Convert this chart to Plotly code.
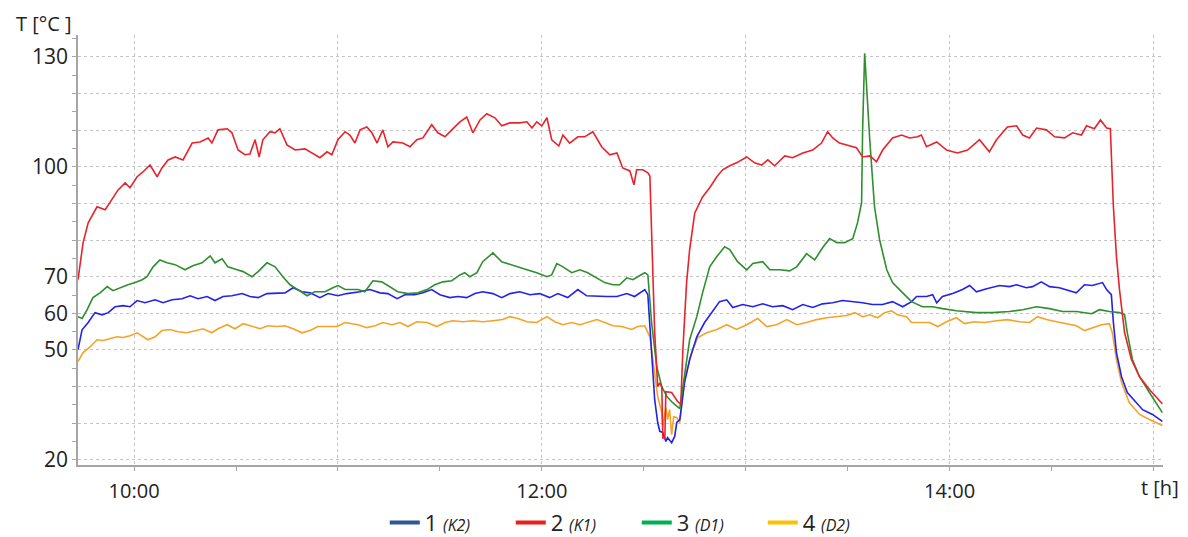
import plotly.graph_objects as go

# time in minutes after 09:00, temperature in °C
t_red = [43.5,45.0,46.5,49.1,51.5,53.5,55.3,57.4,58.8,60.9,
         62.6,64.7,66.8,68.2,70.0,72.1,74.4,77.1,79.4,81.8,
         82.9,84.7,87.4,88.8,90.6,92.6,94.1,95.6,96.8,97.9,
         100.0,101.5,102.9,105.0,107.4,110.3,112.4,114.7,116.8,118.2,
         120.0,122.1,123.5,125.0,126.5,128.5,130.0,131.5,133.2,134.7,
         136.2,139.1,141.2,143.2,145.0,147.6,149.4,151.5,153.5,155.9,
         157.9,159.7,161.8,163.8,166.2,168.2,170.6,173.5,175.6,177.1,
         178.5,180.0,181.5,182.9,185.0,186.2,188.2,190.6,192.6,195.0,
         197.6,200.0,202.1,203.8,205.9,207.1,207.9,209.7,211.2,211.8,
         213.2,214.1,214.7,215.3,215.6,216.2,216.5,218.2,220.0,220.9,
         221.5,222.6,223.5,225.0,227.3,229.4,231.5,233.2,235.3,237.3,
         240.3,242.6,244.7,246.5,248.5,251.5,253.8,256.8,259.7,262.3,
         264.1,265.6,267.6,270.6,272.6,274.4,276.5,278.5,280.3,283.2,
         285.9,288.2,290.6,291.7,293.2,296.2,299.1,302.3,305.3,308.8,
         311.7,313.8,317.0,319.7,321.5,323.5,325.6,328.5,330.9,333.8,
         336.2,338.8,340.3,342.6,344.4,346.2,347.3,348.2,349.1,350.0,
         351.5,353.5,355.9,358.8,362.6]
T_red = [69.2,79.3,84.7,89.1,88.3,91.0,93.7,95.6,94.3,97.3,
         98.6,100.5,97.3,99.7,101.9,102.7,101.9,106.5,106.8,107.9,
         106.5,110.1,110.4,109.3,104.6,103.3,103.5,107.4,102.7,107.4,
         109.6,109.3,110.4,106.0,104.6,104.9,103.8,102.5,104.1,103.3,
         107.4,109.6,108.7,106.5,110.1,110.9,109.3,106.5,110.1,105.5,
         106.8,106.5,105.5,107.4,107.9,111.5,109.3,108.2,110.1,112.3,
         113.6,109.3,112.8,114.5,113.4,111.2,112.0,112.0,112.3,110.6,
         112.3,111.2,113.4,107.4,105.7,108.7,106.5,108.2,108.2,109.6,
         105.5,103.3,103.8,99.7,98.9,95.1,99.2,99.2,98.4,97.5,
         55.0,40.0,41.0,40.0,26.0,26.0,38.6,38.4,35.9,35.2,
         50.0,68.4,77.4,87.4,91.8,94.3,97.3,99.2,100.3,101.1,
         102.7,101.1,100.5,101.9,100.3,103.0,102.5,103.8,104.6,106.5,
         109.6,107.9,106.5,105.7,105.2,102.7,103.0,101.4,104.6,107.9,
         108.7,107.9,108.2,108.7,105.5,106.8,104.6,103.8,104.6,107.4,
         104.1,107.4,110.9,111.2,108.7,107.9,110.6,110.1,108.2,107.9,
         109.3,108.7,111.2,110.4,112.8,110.6,110.4,89.1,75.5,66.5,
         54.7,47.4,42.7,39.2,35.3]

t_green = [43.5,44.7,46.2,47.9,50.0,52.1,53.8,55.9,58.2,60.3,
           62.4,63.8,65.6,67.6,69.7,72.1,75.0,77.3,80.0,82.4,
           83.8,85.9,87.6,90.3,92.1,94.7,96.5,99.1,101.5,103.8,
           105.9,108.2,110.9,113.2,116.2,118.5,120.0,122.1,125.9,127.9,
           130.3,132.9,135.3,137.6,140.6,143.5,146.2,148.5,150.9,153.5,
           155.9,157.3,158.8,160.9,162.6,165.6,168.2,170.6,172.9,175.6,
           178.5,181.5,182.9,184.4,186.2,188.8,191.2,193.5,196.2,198.5,
           200.9,202.9,205.0,206.8,208.2,210.3,211.2,212.3,213.8,215.3,
           216.8,218.5,220.6,222.0,223.5,225.6,227.3,229.4,231.5,233.8,
           235.3,237.6,240.3,242.1,245.0,247.1,250.0,252.9,255.0,257.9,
           260.3,262.6,264.7,266.8,269.1,271.5,272.9,274.1,274.4,275.0,
           275.6,276.5,277.9,279.4,281.5,283.2,286.2,288.8,292.0,295.0,
           297.9,302.0,307.9,312.6,317.6,321.5,325.6,329.4,333.2,337.3,
           341.8,344.1,347.0,350.0,351.5,352.3,353.8,355.9,358.8,362.6]
T_green = [59.1,58.6,61.0,64.3,65.6,67.3,66.2,67.0,67.8,68.4,
           69.2,70.0,72.7,74.6,73.8,73.3,71.9,73.0,73.8,75.7,
           73.8,74.9,72.7,71.9,71.4,70.0,71.4,73.8,72.7,70.0,
           67.8,66.5,64.8,65.9,65.9,67.0,67.6,66.5,66.5,65.9,
           68.9,68.6,67.3,65.9,65.4,65.6,66.5,67.8,68.6,68.9,
           70.5,71.1,70.0,71.1,74.1,76.5,74.1,73.3,72.7,71.9,
           71.1,70.0,70.5,73.6,72.7,71.1,71.9,71.1,69.7,68.4,
           67.8,67.8,69.7,69.2,70.0,71.1,70.5,57.5,45.5,40.0,
           37.3,35.6,34.0,43.8,52.8,59.1,65.6,72.7,75.5,78.2,
           77.4,74.1,71.9,73.6,74.1,71.9,71.9,71.6,72.7,76.3,
           74.6,77.9,80.4,79.3,79.3,80.4,84.7,90.2,110.0,131.0,
           120.0,107.4,89.1,80.1,71.9,68.4,65.6,63.2,61.8,61.8,
           61.3,60.7,60.2,60.2,60.5,61.0,61.8,61.3,60.5,60.5,
           59.9,61.0,60.5,60.2,59.6,54.7,47.4,42.7,38.4,32.9]

t_blue = [43.5,44.7,46.5,48.5,50.6,52.4,54.4,56.8,58.8,60.9,
          63.2,66.2,68.5,71.2,74.1,76.5,78.8,81.5,83.8,86.2,
          88.8,91.8,94.1,96.5,99.1,101.5,104.4,106.8,109.4,111.8,
          114.7,117.1,120.0,122.6,126.5,129.4,132.4,134.7,137.4,139.7,
          142.6,145.0,147.6,150.0,152.9,155.3,157.9,160.3,162.6,165.6,
          168.2,170.6,173.5,176.5,179.4,182.3,184.7,187.6,190.6,193.2,
          196.2,199.1,202.1,205.0,207.3,209.4,210.3,211.2,212.3,213.2,
          214.1,214.7,215.6,216.5,217.0,218.2,219.1,219.7,220.6,222.0,
          223.5,225.6,227.9,230.3,232.3,234.4,236.2,239.1,242.1,245.0,
          247.9,250.9,253.8,256.8,259.7,262.6,265.6,268.5,271.5,274.4,
          277.3,280.3,283.2,286.2,288.8,290.3,293.2,295.0,296.2,297.9,
          300.9,303.8,305.9,307.9,310.9,314.7,317.6,319.7,322.6,324.4,
          327.0,329.4,332.3,335.3,337.3,339.7,342.0,345.0,346.2,347.6,
          348.2,349.1,350.6,352.3,355.0,356.8,359.7,362.6]
T_blue = [50.1,55.5,57.5,60.2,59.6,60.2,61.8,62.1,61.8,63.5,
          62.9,63.7,62.9,63.7,64.0,64.8,64.0,64.6,63.5,64.6,
          64.8,65.4,64.6,64.3,65.4,65.4,65.6,67.0,65.9,65.6,
          64.3,65.4,64.8,65.4,65.9,66.5,65.6,65.4,64.0,65.1,
          65.1,65.6,66.5,65.1,64.3,64.6,64.3,65.4,65.9,65.4,
          64.3,65.4,65.9,65.1,65.4,64.3,65.4,64.3,66.5,64.8,
          64.6,64.6,64.6,65.4,64.6,65.9,66.5,65.1,50.1,36.5,
          30.2,27.8,27.5,25.0,26.1,24.7,26.4,30.2,31.0,41.1,
          47.4,53.6,57.5,60.5,63.2,63.7,61.6,62.4,61.8,62.6,
          61.8,62.1,61.0,62.4,61.6,62.6,62.9,63.5,63.2,62.9,
          62.4,62.4,63.2,61.8,63.2,64.6,64.6,65.1,62.9,64.6,
          65.4,66.5,67.6,65.9,66.7,67.6,67.3,67.8,67.0,67.3,
          68.6,67.3,67.0,66.2,65.6,67.8,67.6,68.4,66.5,65.1,
          57.5,49.3,42.7,38.4,35.6,33.7,32.4,30.5]

t_orange = [43.5,45.0,47.1,49.1,50.9,52.9,55.0,56.8,58.8,60.9,
            62.6,64.1,66.2,68.2,70.6,72.9,75.6,77.9,80.3,82.9,
            84.7,87.4,89.7,92.1,94.7,97.1,99.4,102.1,104.4,106.8,
            109.4,111.8,114.1,117.1,119.7,122.1,125.9,128.5,130.9,133.2,
            135.9,138.2,140.6,143.2,146.2,149.1,151.5,153.8,156.8,159.7,
            162.6,165.6,168.5,170.6,172.9,175.6,178.5,181.5,183.8,186.2,
            188.8,191.2,193.5,196.2,198.5,200.9,203.5,206.5,208.2,210.3,
            211.8,213.2,214.1,215.3,215.6,216.5,217.0,217.6,218.2,218.8,
            219.7,220.6,222.0,224.1,225.9,228.5,231.5,234.4,237.3,240.3,
            243.5,246.2,249.1,252.1,255.0,257.9,260.9,263.8,266.8,269.7,
            272.1,274.4,276.5,278.8,280.9,282.9,284.7,287.3,288.8,291.2,
            294.1,296.5,299.1,302.0,304.4,307.3,310.3,313.8,317.0,320.6,
            323.5,325.9,328.5,331.5,334.4,337.3,339.7,342.0,344.7,347.0,
            347.9,349.1,350.6,352.9,355.9,358.8,362.6]
T_orange = [46.8,49.3,50.9,52.8,52.6,53.1,53.6,53.4,53.9,54.7,
            53.6,52.8,53.6,55.3,55.6,55.0,54.7,55.3,55.8,54.7,
            55.8,56.9,55.8,57.2,56.4,55.8,56.6,56.4,56.6,55.8,
            54.7,55.3,56.4,56.4,56.4,57.5,56.9,56.1,56.6,57.5,
            56.9,57.5,56.4,57.7,57.5,56.4,57.5,58.0,57.7,58.0,
            57.7,58.0,58.3,59.1,58.6,57.7,57.5,59.1,57.7,56.9,
            57.5,56.9,57.5,58.3,57.5,56.6,56.4,55.6,56.4,56.6,
            53.6,42.7,37.3,32.9,29.1,34.3,31.0,33.7,26.9,31.8,
            31.6,30.2,41.9,49.3,53.4,54.7,55.6,56.9,55.6,56.9,
            58.6,56.4,56.9,58.3,56.9,57.5,58.3,58.8,59.1,59.4,
            60.2,59.1,59.6,58.8,60.2,60.7,59.6,59.1,57.5,57.5,
            57.5,56.4,57.7,58.8,57.2,57.7,57.5,58.0,58.3,57.7,
            57.5,59.1,58.3,57.7,57.2,56.6,55.3,56.1,56.9,57.2,
            54.7,47.4,41.1,35.6,32.4,31.0,29.4]

series_names = ["1 <i><span style='font-size:16px'>(K2)</span></i>",
                "2 <i><span style='font-size:16px'>(K1)</span></i>",
                "3 <i><span style='font-size:16px'>(D1)</span></i>",
                "4 <i><span style='font-size:16px'>(D2)</span></i>"]
line_colors = ["#2222ee", "#e8232b", "#2f8f2f", "#f5a328"]
legend_colors = ["#2f5597", "#ee1c1c", "#00b050", "#ffc000"]

y_tickvals = [20, 30, 40, 50, 60, 70, 80, 90, 100, 110, 120, 130]
y_ticktext = ["20", "", "", "50", "60", "70", "", "", "100", "", "", "130"]
x_tickvals = [60, 120, 180, 240, 300, 360]
x_ticktext = ["10:00", "", "12:00", "", "14:00", ""]

data = [(t_blue, T_blue), (t_red, T_red), (t_green, T_green), (t_orange, T_orange)]

fig = go.Figure()
for idx in [3, 0, 2, 1]:
    tx, ty = data[idx]
    fig.add_trace(go.Scatter(x=tx, y=ty, mode="lines",
                             line=dict(color=line_colors[idx], width=1.6),
                             showlegend=False, hoverinfo="skip"))
for idx in range(4):
    fig.add_trace(go.Scatter(x=[None], y=[None], mode="lines",
                             line=dict(color=legend_colors[idx], width=4),
                             name=series_names[idx], showlegend=True))

font_family = "Open Sans, Noto Sans, sans-serif"
fig.update_layout(
    width=1180, height=529,
    margin=dict(l=70, r=25, t=27, b=72, autoexpand=False),
    paper_bgcolor="white", plot_bgcolor="white",
    font=dict(family=font_family, color="#222222"),
    showlegend=True,
    legend=dict(orientation="h", x=0.515, xanchor="center",
                yref="container", y=0.027, yanchor="middle",
                font=dict(size=22, family=font_family, color="#222222"),
                entrywidth=81, entrywidthmode="pixels",
                bgcolor="rgba(0,0,0,0)"),
    xaxis=dict(range=[43.5, 362.8], tickvals=x_tickvals, ticktext=x_ticktext,
               showgrid=True, gridcolor="#c4c4c4", griddash="dot", gridwidth=1,
               showline=True, linecolor="#a6a6a6", linewidth=1.5,
               ticks="outside", ticklen=4, tickcolor="#a6a6a6",
               ticklabelstandoff=3,
               minor=dict(dtick=30, tick0=0, ticks="outside", ticklen=4,
                          tickcolor="#a6a6a6", showgrid=False),
               tickfont=dict(size=20, family=font_family, color="#222222"),
               zeroline=False),
    yaxis=dict(range=[18.6, 136], tickvals=y_tickvals, ticktext=y_ticktext,
               showgrid=True, gridcolor="#c4c4c4", griddash="dot", gridwidth=1,
               showline=True, linecolor="#a6a6a6", linewidth=1.5,
               ticks="outside", ticklen=4, tickcolor="#a6a6a6",
               minor=dict(dtick=5, tick0=0, ticks="outside", ticklen=4,
                          tickcolor="#a6a6a6", showgrid=False),
               tickfont=dict(size=21, family=font_family, color="#222222"),
               zeroline=False),
    annotations=[
        dict(text="T [°C ]", xref="paper", yref="paper", x=-0.058, y=1.06,
             xanchor="left", yanchor="top", showarrow=False, borderpad=0,
             font=dict(size=20, family=font_family, color="#222222")),
        dict(text="t [h]", xref="paper", yref="paper", x=0.978, y=-0.053,
             xanchor="left", yanchor="middle", showarrow=False,
             font=dict(size=20, family=font_family, color="#222222")),
    ],
)

fig.write_html("out.html")
